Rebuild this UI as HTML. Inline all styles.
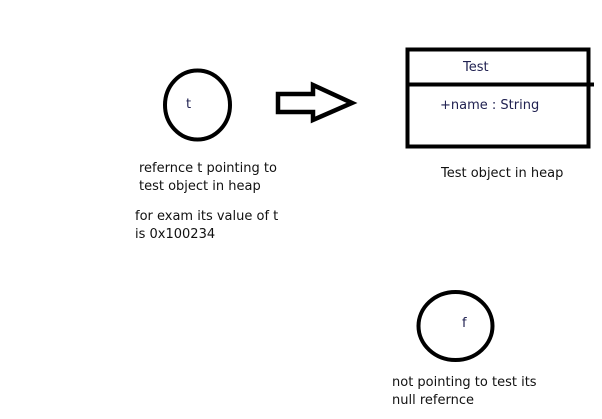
<!DOCTYPE html>
<html><head><style>
body{margin:0;width:602px;height:419px;background:#fff;position:relative;overflow:hidden;font-family:"DejaVu Sans","Liberation Sans",sans-serif;font-size:13px;color:#111}
.t{position:absolute;white-space:nowrap;line-height:18px}
</style></head><body>
<svg width="602" height="419" style="position:absolute;left:0;top:0">
<ellipse cx="197.5" cy="105" rx="32.5" ry="34.5" fill="none" stroke="#000" stroke-width="4"/>
<ellipse cx="455.5" cy="326" rx="37" ry="34" fill="none" stroke="#000" stroke-width="4"/>
<polygon points="278,94 313,94 313,85 352,103 313,120 313,112 278,112" fill="none" stroke="#000" stroke-width="4.5" stroke-linejoin="miter"/>
<rect x="407.5" y="49.5" width="181" height="97" fill="none" stroke="#000" stroke-width="4"/>
<line x1="406" y1="84.5" x2="594" y2="84.5" stroke="#000" stroke-width="4"/>
</svg>
<div class="t" style="left:186px;top:96px;color:#1f2050">t</div>
<div class="t" style="left:463px;top:59px;color:#1f2050">Test</div>
<div class="t" style="left:440px;top:97px;color:#1f2050">+name : String</div>
<div class="t" style="left:441px;top:165px">Test object in heap</div>
<div class="t" style="left:139px;top:160px">refernce t pointing to<br>test object in heap</div>
<div class="t" style="left:135px;top:208px">for exam its value of t<br>is 0x100234</div>
<div class="t" style="left:462px;top:315px;color:#1f2050">f</div>
<div class="t" style="left:392px;top:374px">not pointing to test its<br>null refernce</div>
</body></html>
